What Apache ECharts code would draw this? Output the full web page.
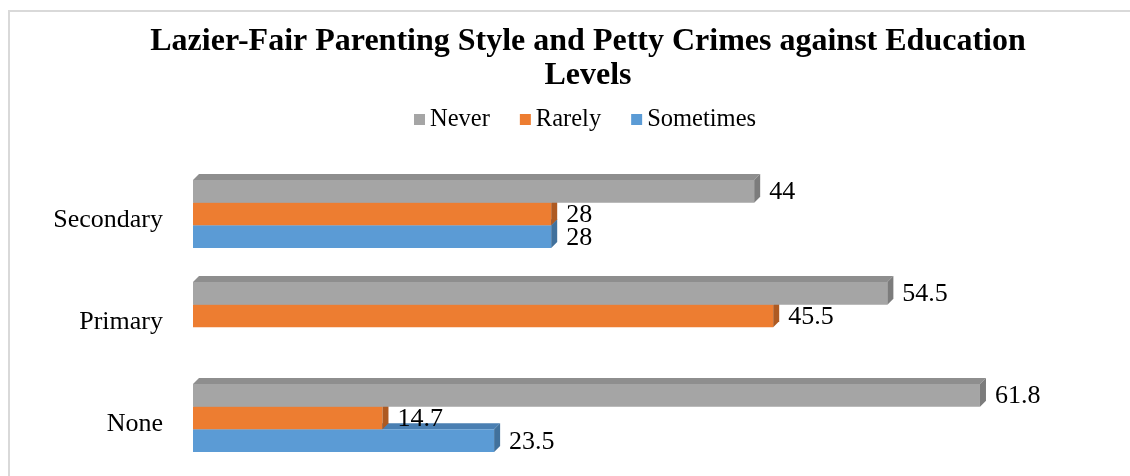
<!DOCTYPE html>
<html>
<head>
<meta charset="utf-8">
<script src="https://cdn.jsdelivr.net/npm/echarts@6/dist/echarts.min.js"></script>
<style>
html,body{margin:0;padding:0;background:#fff;}
#chart{width:1130px;height:476px;}
</style>
</head>
<body>
<div id="chart"></div>
<script>
const titleText = 'Lazier-Fair Parenting Style and Petty Crimes against Education\nLevels';
const categories = ['None', 'Primary', 'Secondary'];
const seriesNames = ['Never', 'Rarely', 'Sometimes'];
const neverValues = [61.8, 54.5, 44];
const rarelyValues = [14.7, 45.5, 28];
const sometimesValues = [23.5, null, 28];
const xMax = 70;

const colors = {
  Never: {front: '#A5A5A5', top: '#8E8E8E', side: '#7C7C7C'},
  Rarely: {front: '#ED7D31', top: '#C8662A', side: '#AE5A22'},
  Sometimes: {front: '#5B9BD5', top: '#4A7FB2', side: '#41719C'}
};
const slotOf = {Never: 0, Rarely: 1, Sometimes: 2};
const valuesOf = {Never: neverValues, Rarely: rarelyValues, Sometimes: sometimesValues};

const BAR_H = 22.7, DEPTH = 6, GROUP_SHIFT = -6;
const FONT = '"Liberation Serif", "Times New Roman", serif';

function makeRender(name) {
  return function (params, api) {
    const v = api.value(0), cat = api.value(1);
    const p0 = api.coord([0, cat]);
    const p1 = api.coord([v, cat]);
    const groupTop = p0[1] + GROUP_SHIFT - 1.5 * BAR_H;
    const y = groupTop + slotOf[name] * BAR_H;
    const x0 = p0[0] - 3, x1 = p1[0];
    const c = colors[name];
    const h = BAR_H, d = DEPTH;
    return {
      type: 'group',
      children: [
        {type: 'polygon', shape: {points: [[x0, y], [x0 + d, y - d], [x1 + d, y - d], [x1, y]]}, style: {fill: c.top}},
        {type: 'rect', shape: {x: x0, y: y, width: x1 - x0, height: h}, style: {fill: c.front}},
        {type: 'polygon', shape: {points: [[x1, y], [x1 + d, y - d], [x1 + d, y + h - d], [x1, y + h]]}, style: {fill: c.side}},
        {type: 'text', style: {text: String(v), x: x1 + 15, y: y + h / 2 + 1, textVerticalAlign: 'middle', verticalAlign: 'middle', fill: '#000', font: '26px ' + FONT}}
      ]
    };
  };
}

const drawOrder = ['Sometimes', 'Rarely', 'Never'];
const series = drawOrder.map(name => ({
  name: name,
  type: 'custom',
  renderItem: makeRender(name),
  itemStyle: {color: colors[name].front},
  encode: {x: 0, y: 1},
  data: valuesOf[name].map((v, i) => v == null ? null : [v, i]).filter(d => d)
}));

const chart = echarts.init(document.getElementById('chart'));
chart.setOption({
  backgroundColor: '#fff',
  animation: false,
  graphic: [{type: 'rect', shape: {x: 9, y: 11, width: 1300, height: 600}, style: {fill: 'none', stroke: '#D9D9D9', lineWidth: 2}, z: -10}],
  title: {
    text: titleText,
    left: 583,
    top: 20,
    textAlign: 'center',
    textStyle: {fontFamily: FONT, fontWeight: 'bold', fontSize: 32, color: '#000', lineHeight: 34}
  },
  legend: {
    data: seriesNames,
    top: 102,
    left: 409,
    icon: 'rect',
    itemWidth: 11,
    itemHeight: 11,
    itemGap: 30,
    itemTextGap: 6,
    textStyle: {fontFamily: FONT, fontSize: 24.5, color: '#000'}
  },
  grid: {left: 196, right: 46, top: 169, bottom: 1, containLabel: false},
  xAxis: {type: 'value', min: 0, max: xMax, show: false, splitLine: {show: false}},
  yAxis: {
    type: 'category',
    data: categories,
    axisLine: {show: false},
    axisTick: {show: false},
    axisLabel: {margin: 33, fontFamily: FONT, fontSize: 26, color: '#000'}
  },
  series: series
});
</script>
</body>
</html>
